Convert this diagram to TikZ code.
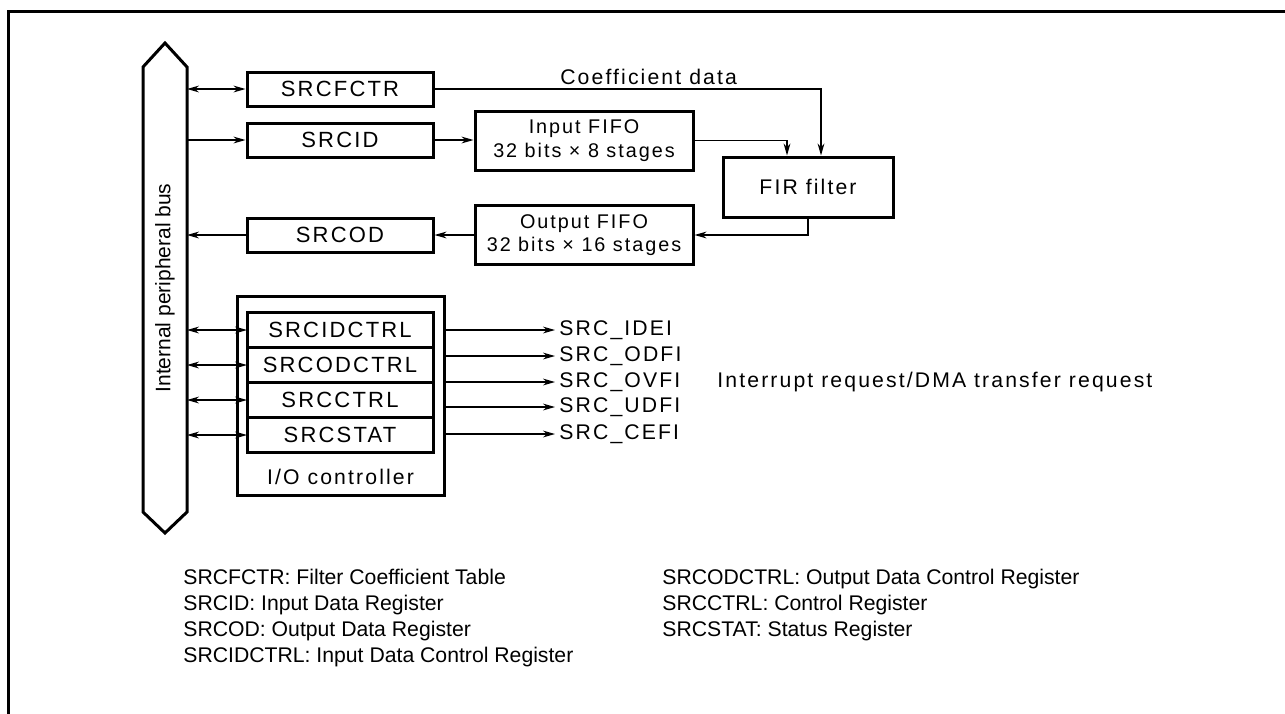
\documentclass[tikz,border=0pt]{standalone}
\usepackage{fontspec}
\setmainfont{Liberation Sans}
\newfontfamily\spacedfont[LetterSpace=10]{Liberation Sans}
\usetikzlibrary{arrows.meta,positioning}
\tikzset{
  regbox/.style={
    draw,
    line width=1.5pt,
    align=center,
    inner sep=0pt,
    minimum width=93pt,
    minimum height=17pt,
    font=\spacedfont\fontsize{11}{13}\selectfont
  },
  stackbox/.style={
    regbox,
    outer sep=0pt,
    minimum height=17.5pt
  },
  fifobox/.style={
    draw,
    line width=1.5pt,
    align=center,
    inner sep=0pt,
    minimum width=109pt,
    minimum height=29.5pt,
    font=\spacedfont\fontsize{9.9}{11.8}\selectfont
  },
  lbl/.style={font=\spacedfont\fontsize{10.6}{12}\selectfont},
  siglabel/.style={lbl, anchor=west, inner sep=2pt},
  keytext/.style={
    anchor=north west,
    align=left,
    inner sep=0pt,
    font=\fontsize{10.6}{13}\selectfont
  },
  arrow/.style={-{Stealth[length=6pt,width=3.4pt]}, line width=0.65pt},
  biarrow/.style={{Stealth[length=6pt,width=3.4pt]}-{Stealth[length=6pt,width=3.4pt]}, line width=0.65pt}
}
\begin{document}
\begin{tikzpicture}[x=0.5pt, y=-0.5pt]
  \useasboundingbox (0,0) rectangle (1285,713);
  \draw[line width=1.5pt] (8,720) -- (8,11) -- (1290,11);
  % peripheral bus
  \draw[line width=1.5pt] (143,67) -- (165,43) -- (187,67) -- (187,512)
    -- (165,533) -- (143,512) -- cycle;
  \node[rotate=90, font=\fontsize{10.5}{12}\selectfont] (buslabel) at (165,288)
    {Internal peripheral bus};
  \coordinate (busE) at (187,288);
  % data path
  \node[regbox] (srcfctr) at (340,89) {SRCFCTR};
  \node[regbox] (srcid) at (340,140) {SRCID};
  \node[regbox] (srcod) at (340,235) {SRCOD};
  \node[fifobox] (infifo) at (584,140.5) {Input FIFO\\32 bits × 8 stages};
  \node[fifobox] (outfifo) at (584,235) {Output FIFO\\32 bits × 16 stages};
  \node[regbox, lbl, minimum width=85pt, minimum height=30pt] (fir) at (808,187)
    {FIR filter};
  % I/O controller
  \node[draw, line width=1.5pt, minimum width=103.5pt, minimum height=99.5pt]
    (ioctrl) at (340.5,395.5) {};
  \node[stackbox] (regidctrl) at (340,330) {SRCIDCTRL};
  \node[stackbox, below=0pt of regidctrl] (regodctrl) {SRCODCTRL};
  \node[stackbox, below=0pt of regodctrl] (regctrl) {SRCCTRL};
  \node[stackbox, below=0pt of regctrl] (regstat) {SRCSTAT};
  \node[lbl] (iolabel) at (340.5,477) {I/O controller};
  % requests
  \node[siglabel] (idei) at (555,330) {SRC\_IDEI};
  \node[siglabel] (odfi) at (555,356) {SRC\_ODFI};
  \node[siglabel] (ovfi) at (555,382) {SRC\_OVFI};
  \node[siglabel] (udfi) at (555,407) {SRC\_UDFI};
  \node[siglabel] (cefi) at (555,434) {SRC\_CEFI};
  \node[siglabel] (reqlabel) at (713,382) {Interrupt request/DMA transfer request};
  % key
  \node[keytext] (keyleft) at (183,569)
    {SRCFCTR: Filter Coefficient Table\\SRCID: Input Data Register\\
     SRCOD: Output Data Register\\SRCIDCTRL: Input Data Control Register};
  \node[keytext] (keyright) at (662,569)
    {SRCODCTRL: Output Data Control Register\\SRCCTRL: Control Register\\
     SRCSTAT: Status Register};
  \draw[biarrow] (busE |- srcfctr) -- (srcfctr);
  \draw[arrow] (busE |- srcid) -- (srcid);
  \draw[arrow] (srcod) -- (busE |- srcod);
  \draw[arrow] (srcid) -- (srcid -| infifo.west);
  \draw[arrow] (outfifo) -- (srcod);
  \draw[arrow] (srcfctr.east) -| node[lbl, pos=0.277, above, inner sep=2pt]
    {Coefficient data} ([xshift=6.5pt]fir.north);
  \draw[arrow] (infifo.east) -| ([xshift=-10.5pt]fir.north);
  \draw[arrow] (fir.south) |- (outfifo.east);
  \draw[biarrow] (busE |- regidctrl) -- (regidctrl);
  \draw[biarrow] (busE |- regodctrl) -- (regodctrl);
  \draw[biarrow] (busE |- regctrl) -- (regctrl);
  \draw[biarrow] (busE |- regstat) -- (regstat);
  \draw[arrow] (ioctrl.east |- idei) -- (idei);
  \draw[arrow] (ioctrl.east |- odfi) -- (odfi);
  \draw[arrow] (ioctrl.east |- ovfi) -- (ovfi);
  \draw[arrow] (ioctrl.east |- udfi) -- (udfi);
  \draw[arrow] (ioctrl.east |- cefi) -- (cefi);
\end{tikzpicture}
\end{document}
